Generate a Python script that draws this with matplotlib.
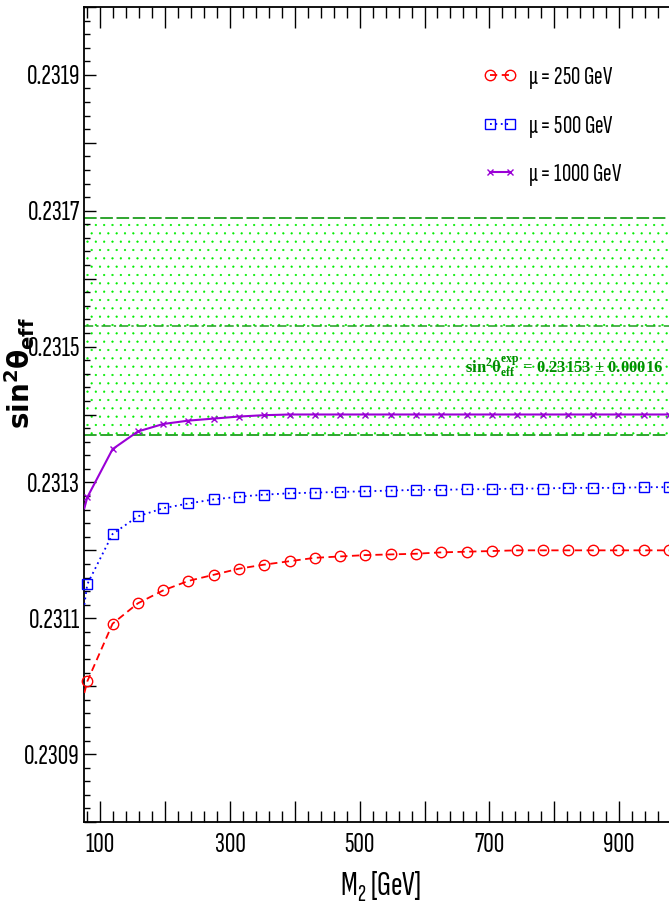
import matplotlib
matplotlib.use("Agg")
import matplotlib.pyplot as plt
from matplotlib.lines import Line2D
from matplotlib.ticker import MultipleLocator

# M2 scan points (GeV) and sin^2(theta_eff) for three values of mu
m2 = [80, 119, 158, 197, 236, 275, 314, 353, 392, 431, 470, 509,
      548, 587, 626, 665, 704, 743, 782, 821, 860, 899, 938, 977]
m2_curve_start = 75.5

sw_mu250 = [0.231007, 0.231092, 0.231122, 0.231141, 0.231155, 0.231164,
            0.231173, 0.231179, 0.231184, 0.231189, 0.231191, 0.231193,
            0.231194, 0.231195, 0.231197, 0.231198, 0.231199, 0.231200,
            0.231200, 0.231200, 0.231200, 0.231200, 0.231200, 0.231200]
sw_mu500 = [0.231150, 0.231224, 0.231250, 0.231262, 0.231269, 0.231275,
            0.231279, 0.231282, 0.231284, 0.231285, 0.231286, 0.231287,
            0.231288, 0.231289, 0.231289, 0.231290, 0.231290, 0.231291,
            0.231291, 0.231292, 0.231292, 0.231292, 0.231293, 0.231293]
sw_mu1000 = [0.231278, 0.231349, 0.231375, 0.231386, 0.231391, 0.231394,
             0.231397, 0.231399, 0.231400, 0.231400, 0.231400, 0.231400,
             0.231400, 0.231400, 0.231400, 0.231400, 0.231400, 0.231400,
             0.231400, 0.231400, 0.231400, 0.231400, 0.231400, 0.231400]
sw_start = [0.230990, 0.231120, 0.231262]

series_labels = [r"$\mathregular{\mu}$ = 250 GeV",
                 r"$\mathregular{\mu}$ = 500 GeV",
                 r"$\mathregular{\mu}$ = 1000 GeV"]

# experimental average
sw_exp = 0.23153
sw_exp_err = 0.00016

x_ticks = [100, 200, 300, 400, 500, 600, 700, 800, 900]
x_ticklabels = ["100", "", "300", "", "500", "", "700", "", "900"]
y_ticks = [0.2308, 0.2309, 0.2310, 0.2311, 0.2312, 0.2313, 0.2314,
           0.2315, 0.2316, 0.2317, 0.2318, 0.2319, 0.2320]
y_ticklabels = ["", "0.2309", "", "0.2311", "", "0.2313", "",
                "0.2315", "", "0.2317", "", "0.2319", ""]

narrow = ["Sofia Sans Extra Condensed", "Liberation Sans", "DejaVu Sans"]
plt.rcParams["font.family"] = narrow
plt.rcParams["hatch.color"] = "#00ee00"
plt.rcParams["hatch.linewidth"] = 0.35

fig = plt.figure(figsize=(6.69, 9.08), dpi=100)
ax = fig.add_axes([0.1256, 0.0947, 0.8744, 0.8976])

# experimental band
ax.fill_between([75, 977], sw_exp - sw_exp_err, sw_exp + sw_exp_err,
                facecolor="none", edgecolor="#00ee00", hatch="..",
                linewidth=0, zorder=1)
band_green = "#1f9e1f"
ax.axhline(sw_exp + sw_exp_err, color=band_green, lw=1.3,
           ls=(0, (7, 2)), zorder=2)
ax.axhline(sw_exp - sw_exp_err, color=band_green, lw=1.3,
           ls=(0, (7, 2)), zorder=2)
ax.axhline(sw_exp, color=band_green, lw=1.1,
           ls=(0, (6, 2, 1.5, 2)), zorder=2)

styles = [
    dict(color="#ff0000", ls=(0, (4, 2.5)), lw=1.3, marker="o", ms=7.5),
    dict(color="#0000ff", ls=(0, (1, 2)), lw=1.3, marker="s", ms=6.5),
    dict(color="#9a00d6", ls="-", lw=1.5, marker="x", ms=5),
]
handles = []
for sw, start, st in zip([sw_mu250, sw_mu500, sw_mu1000], sw_start, styles):
    ax.plot([m2_curve_start] + m2, [start] + sw, color=st["color"],
            ls=st["ls"], lw=st["lw"], zorder=3)
    ax.plot(m2, sw, ls="none", marker=st["marker"], ms=st["ms"],
            mfc="none", mec=st["color"], mew=1.0, zorder=4, clip_on=False)
    handles.append(Line2D([], [], color=st["color"], ls=st["ls"], lw=st["lw"],
                          marker=st["marker"], ms=st["ms"], mfc="none",
                          mec=st["color"], mew=1.0))

ax.legend(handles, series_labels, loc="upper left",
          bbox_to_anchor=(0.681, 0.9285), frameon=False, numpoints=2,
          fontsize=18.5, handlelength=1.38, handletextpad=0.4,
          labelspacing=0.88, borderaxespad=0, borderpad=0)

ax.text(0.9897, 0.552,
        r"$\mathregular{sin^{2}θ_{eff}^{exp}}$ = 0.23153 ± 0.00016",
        transform=ax.transAxes, ha="right", va="baseline",
        color="#008c00", fontsize=12, fontweight="bold",
        family=["Liberation Serif", "DejaVu Serif"])

ax.set_xlim(75, 977)
ax.set_ylim(0.2308, 0.2320)
ax.set_xticks(x_ticks, x_ticklabels)
ax.set_yticks(y_ticks, y_ticklabels)
ax.xaxis.set_minor_locator(MultipleLocator(20))
ax.yaxis.set_minor_locator(MultipleLocator(0.00002))

ax.tick_params(axis="x", which="both", direction="in", top=True,
               bottom=True, labelsize=21, pad=8)
ax.tick_params(axis="x", which="major", length=15, width=1.0)
ax.tick_params(axis="x", which="minor", length=7.7, width=1.0)
ax.tick_params(axis="y", which="both", direction="in", left=True,
               right=False, labelsize=21, pad=3)
ax.tick_params(axis="y", which="major", length=8.4, width=1.0)
ax.tick_params(axis="y", which="minor", length=4.3, width=1.0)

for side in ["left", "bottom", "top"]:
    ax.spines[side].set_linewidth(1.3)
ax.spines["right"].set_visible(False)

ax.set_xlabel(r"M$_\mathregular{2}$ [GeV]", fontsize=25)
ax.xaxis.set_label_coords(0.506, -0.058)
ax.set_ylabel(r"$\mathbf{sin^2\theta_{eff}}$", fontsize=20,
              math_fontfamily="dejavusans")
ax.yaxis.set_label_coords(-0.081, 0.551)

fig.savefig("out.png", dpi=100)
